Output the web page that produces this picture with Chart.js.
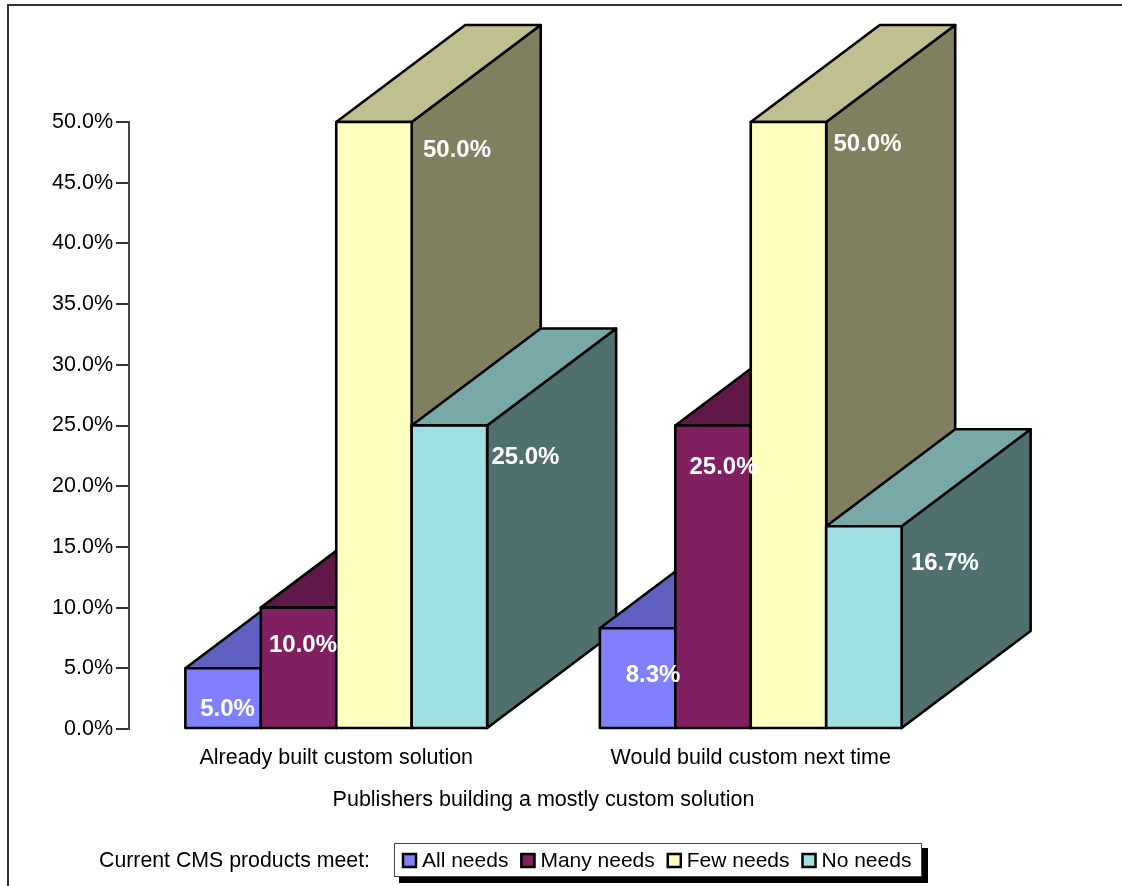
<!DOCTYPE html>
<html>
<head>
<meta charset="utf-8">
<title>Publishers building a mostly custom solution</title>
<script src="https://cdn.jsdelivr.net/npm/chart.js@4"></script>
<style>
    html, body { margin: 0; padding: 0; background: #fff; }
    canvas { display: block; }
</style>
</head>
<body>
<canvas id="myChart" width="1122" height="886"></canvas>
<script>
const categories = ['Already built custom solution', 'Would build custom next time'];
const seriesNames = ['All needs', 'Many needs', 'Few needs', 'No needs'];
const allNeeds = [5.0, 8.3];
const manyNeeds = [10.0, 25.0];
const fewNeeds = [50.0, 50.0];
const noNeeds = [25.0, 16.7];

const frontColors = ['#8080FF', '#802060', '#FFFFC0', '#A0E0E0'];
const topColors = ['#6060C0', '#601848', '#BFBF90', '#78A8A8'];
const sideColors = ['#404080', '#401030', '#808060', '#507070'];

const fontFamily = '"Liberation Sans", Arial, sans-serif';
const axisFontSize = 21.5;
const depthX = 129;
const depthY = -97;

// label position relative to the bar: [centre x offset, offset below bar top]
const labelOffsets = [
    [[4.5, 41], [15.5, 47]],
    [[4.5, 38], [10.5, 42]],
    [[83, 28], [79, 22]],
    [[76, 32], [81, 37]]
];

function polygon(ctx, points, fill) {
    ctx.beginPath();
    points.forEach((p, i) => {
        if (i === 0) ctx.moveTo(p[0], p[1]);
        else ctx.lineTo(p[0], p[1]);
    });
    ctx.closePath();
    ctx.fillStyle = fill;
    ctx.fill();
    ctx.stroke();
}

// the bars are painted here so that each category goes back to front
const bars3d = {
    id: 'bars3d',
    beforeDatasetsDraw(chart) {
        const ctx = chart.ctx;
        ctx.save();
        ctx.lineWidth = 2.6;
        ctx.strokeStyle = '#000';
        ctx.lineJoin = 'round';
        categories.forEach((cat, c) => {
            chart.data.datasets.forEach((ds, s) => {
                const bar = chart.getDatasetMeta(s).data[c];
                const l = bar.x - bar.width / 2;
                const r = bar.x + bar.width / 2;
                const t = bar.y;
                const b = bar.base;
                polygon(ctx, [[r, t], [r + depthX, t + depthY], [r + depthX, b + depthY], [r, b]], sideColors[s]);
                polygon(ctx, [[l, t], [l + depthX, t + depthY], [r + depthX, t + depthY], [r, t]], topColors[s]);
                bar.draw(ctx);
                polygon(ctx, [[l, t], [r, t], [r, b], [l, b]], 'rgba(0,0,0,0)');
            });
        });

        ctx.font = 'bold 24px ' + fontFamily;
        ctx.fillStyle = '#fff';
        ctx.textAlign = 'center';
        ctx.textBaseline = 'middle';
        categories.forEach((cat, c) => {
            chart.data.datasets.forEach((ds, s) => {
                const bar = chart.getDatasetMeta(s).data[c];
                const off = labelOffsets[s][c];
                ctx.fillText(ds.data[c].toFixed(1) + '%', bar.x + off[0], bar.y + off[1]);
            });
        });
        ctx.restore();
        return false;
    }
};

// frame lines and the boxed legend along the bottom
const frameAndLegend = {
    id: 'frameAndLegend',
    afterDraw(chart) {
        const ctx = chart.ctx;
        ctx.save();
        ctx.strokeStyle = '#333';
        ctx.lineWidth = 2;
        ctx.beginPath();
        ctx.moveTo(8, 886);
        ctx.lineTo(8, 5);
        ctx.lineTo(1122, 5);
        ctx.stroke();

        ctx.font = '21.3px ' + fontFamily;
        ctx.textBaseline = 'middle';
        ctx.textAlign = 'left';
        ctx.fillStyle = '#000';
        ctx.fillText('Current CMS products meet:', 99, 861);

        ctx.fillRect(399, 848, 529, 35);
        ctx.fillStyle = '#fff';
        ctx.fillRect(394, 843, 527.5, 34);
        ctx.strokeStyle = '#444';
        ctx.lineWidth = 1;
        ctx.strokeRect(394.5, 843.5, 527, 33);

        ctx.font = '21px ' + fontFamily;
        let x = 402;
        chart.data.datasets.forEach(ds => {
            ctx.fillStyle = ds.backgroundColor;
            ctx.fillRect(x, 853, 15, 15);
            ctx.strokeStyle = '#000';
            ctx.lineWidth = 2.5;
            ctx.strokeRect(x + 1, 854, 13, 13);
            ctx.fillStyle = '#000';
            ctx.fillText(ds.label, x + 20, 861);
            x += 20 + ctx.measureText(ds.label).width + 12;
        });
        ctx.restore();
    }
};

const seriesValues = [allNeeds, manyNeeds, fewNeeds, noNeeds];

new Chart(document.getElementById('myChart').getContext('2d'), {
    type: 'bar',
    data: {
        labels: categories,
        datasets: seriesNames.map((name, i) => ({
            label: name,
            data: seriesValues[i],
            backgroundColor: frontColors[i],
            borderWidth: 0,
            categoryPercentage: 0.728,
            barPercentage: 1
        }))
    },
    options: {
        responsive: false,
        animation: false,
        layout: {
            autoPadding: false,
            padding: { top: 122, left: 0, right: 164, bottom: 72 }
        },
        plugins: {
            legend: { display: false },
            tooltip: { enabled: false }
        },
        scales: {
            x: {
                afterFit(scale) { scale.height = 85; },
                grid: { display: false },
                border: { display: false },
                ticks: {
                    color: '#000',
                    padding: 8,
                    maxRotation: 0,
                    font: { family: fontFamily, size: axisFontSize }
                },
                title: {
                    display: true,
                    text: 'Publishers building a mostly custom solution',
                    color: '#000',
                    padding: { top: 11, bottom: 1 },
                    font: { family: fontFamily, size: axisFontSize }
                }
            },
            y: {
                min: 0,
                max: 50,
                afterFit(scale) { scale.width = 129; },
                border: { color: '#444', width: 2 },
                grid: { drawOnChartArea: false, tickLength: 13, color: '#333', lineWidth: 2 },
                ticks: {
                    stepSize: 5,
                    color: '#000',
                    padding: 3,
                    labelOffset: 0,
                    font: { family: fontFamily, size: axisFontSize },
                    callback: v => v.toFixed(1) + '%'
                }
            }
        }
    },
    plugins: [bars3d, frameAndLegend]
});
</script>
</body>
</html>
